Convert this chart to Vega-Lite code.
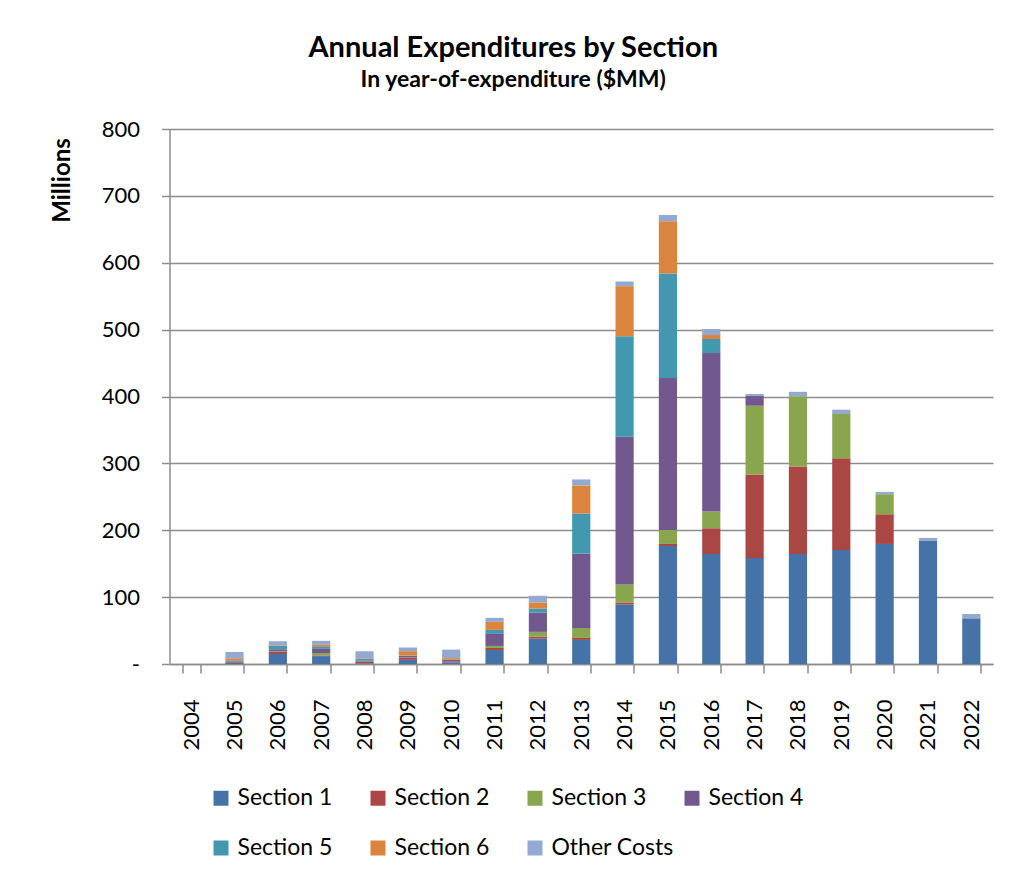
{
  "$schema": "https://vega.github.io/schema/vega-lite/v6.json",
  "width": 823.5,
  "height": 535,
  "autosize": {"type": "none"},
  "padding": {"left": 169.5, "top": 129, "right": 31, "bottom": 219},
  "background": "white",
  "title": {
    "text": "Annual Expenditures by Section",
    "subtitle": "In year-of-expenditure ($MM)",
    "anchor": "middle",
    "dx": -68,
    "font": "Lato",
    "fontSize": 29,
    "fontWeight": "bold",
    "color": "black",
    "subtitleFont": "Lato",
    "subtitleFontSize": 23,
    "subtitleFontWeight": "bold",
    "subtitleColor": "black",
    "subtitlePadding": 6,
    "offset": 26
  },
  "data": {
    "values": [
      {"year": "2004", "section": "Section 1", "value": 0},
      {"year": "2005", "section": "Section 1", "value": 2},
      {"year": "2005", "section": "Section 2", "value": 1},
      {"year": "2005", "section": "Section 3", "value": 0.5},
      {"year": "2005", "section": "Section 4", "value": 1},
      {"year": "2005", "section": "Section 5", "value": 1},
      {"year": "2005", "section": "Section 6", "value": 3},
      {"year": "2005", "section": "Other Costs", "value": 9.5},
      {"year": "2006", "section": "Section 1", "value": 15},
      {"year": "2006", "section": "Section 2", "value": 3},
      {"year": "2006", "section": "Section 3", "value": 1},
      {"year": "2006", "section": "Section 4", "value": 3},
      {"year": "2006", "section": "Section 5", "value": 5},
      {"year": "2006", "section": "Section 6", "value": 1},
      {"year": "2006", "section": "Other Costs", "value": 6},
      {"year": "2007", "section": "Section 1", "value": 11.8},
      {"year": "2007", "section": "Section 2", "value": 1},
      {"year": "2007", "section": "Section 3", "value": 3.6},
      {"year": "2007", "section": "Section 4", "value": 6.2},
      {"year": "2007", "section": "Section 5", "value": 3},
      {"year": "2007", "section": "Section 6", "value": 3},
      {"year": "2007", "section": "Other Costs", "value": 6},
      {"year": "2008", "section": "Section 1", "value": 1},
      {"year": "2008", "section": "Section 2", "value": 2},
      {"year": "2008", "section": "Section 3", "value": 0.5},
      {"year": "2008", "section": "Section 4", "value": 1.5},
      {"year": "2008", "section": "Section 5", "value": 2.5},
      {"year": "2008", "section": "Section 6", "value": 1},
      {"year": "2008", "section": "Other Costs", "value": 10.5},
      {"year": "2009", "section": "Section 1", "value": 6.2},
      {"year": "2009", "section": "Section 2", "value": 3},
      {"year": "2009", "section": "Section 3", "value": 0.5},
      {"year": "2009", "section": "Section 4", "value": 2.5},
      {"year": "2009", "section": "Section 5", "value": 0.5},
      {"year": "2009", "section": "Section 6", "value": 6.5},
      {"year": "2009", "section": "Other Costs", "value": 5.5},
      {"year": "2010", "section": "Section 1", "value": 2.5},
      {"year": "2010", "section": "Section 2", "value": 1.5},
      {"year": "2010", "section": "Section 4", "value": 2},
      {"year": "2010", "section": "Section 5", "value": 0.3},
      {"year": "2010", "section": "Section 6", "value": 2.5},
      {"year": "2010", "section": "Other Costs", "value": 12.7},
      {"year": "2011", "section": "Section 1", "value": 21},
      {"year": "2011", "section": "Section 2", "value": 3},
      {"year": "2011", "section": "Section 3", "value": 3},
      {"year": "2011", "section": "Section 4", "value": 18},
      {"year": "2011", "section": "Section 5", "value": 6},
      {"year": "2011", "section": "Section 6", "value": 12},
      {"year": "2011", "section": "Other Costs", "value": 6},
      {"year": "2012", "section": "Section 1", "value": 38},
      {"year": "2012", "section": "Section 2", "value": 3},
      {"year": "2012", "section": "Section 3", "value": 7},
      {"year": "2012", "section": "Section 4", "value": 29},
      {"year": "2012", "section": "Section 5", "value": 6},
      {"year": "2012", "section": "Section 6", "value": 9},
      {"year": "2012", "section": "Other Costs", "value": 10},
      {"year": "2013", "section": "Section 1", "value": 36},
      {"year": "2013", "section": "Section 2", "value": 3},
      {"year": "2013", "section": "Section 3", "value": 15},
      {"year": "2013", "section": "Section 4", "value": 111},
      {"year": "2013", "section": "Section 5", "value": 60},
      {"year": "2013", "section": "Section 6", "value": 42},
      {"year": "2013", "section": "Other Costs", "value": 9},
      {"year": "2014", "section": "Section 1", "value": 89},
      {"year": "2014", "section": "Section 2", "value": 3},
      {"year": "2014", "section": "Section 3", "value": 27},
      {"year": "2014", "section": "Section 4", "value": 221},
      {"year": "2014", "section": "Section 5", "value": 150},
      {"year": "2014", "section": "Section 6", "value": 75},
      {"year": "2014", "section": "Other Costs", "value": 7},
      {"year": "2015", "section": "Section 1", "value": 176.5},
      {"year": "2015", "section": "Section 2", "value": 3},
      {"year": "2015", "section": "Section 3", "value": 21},
      {"year": "2015", "section": "Section 4", "value": 227},
      {"year": "2015", "section": "Section 5", "value": 156.5},
      {"year": "2015", "section": "Section 6", "value": 78},
      {"year": "2015", "section": "Other Costs", "value": 9.4},
      {"year": "2016", "section": "Section 1", "value": 164.5},
      {"year": "2016", "section": "Section 2", "value": 38.5},
      {"year": "2016", "section": "Section 3", "value": 25},
      {"year": "2016", "section": "Section 4", "value": 237},
      {"year": "2016", "section": "Section 5", "value": 21},
      {"year": "2016", "section": "Section 6", "value": 6},
      {"year": "2016", "section": "Other Costs", "value": 9},
      {"year": "2017", "section": "Section 1", "value": 158.5},
      {"year": "2017", "section": "Section 2", "value": 125},
      {"year": "2017", "section": "Section 3", "value": 102.7},
      {"year": "2017", "section": "Section 4", "value": 14.5},
      {"year": "2017", "section": "Other Costs", "value": 3},
      {"year": "2018", "section": "Section 1", "value": 164.5},
      {"year": "2018", "section": "Section 2", "value": 131},
      {"year": "2018", "section": "Section 3", "value": 105},
      {"year": "2018", "section": "Other Costs", "value": 6.5},
      {"year": "2019", "section": "Section 1", "value": 170.5},
      {"year": "2019", "section": "Section 2", "value": 137},
      {"year": "2019", "section": "Section 3", "value": 66.3},
      {"year": "2019", "section": "Other Costs", "value": 6.5},
      {"year": "2020", "section": "Section 1", "value": 179.5},
      {"year": "2020", "section": "Section 2", "value": 44.4},
      {"year": "2020", "section": "Section 3", "value": 30},
      {"year": "2020", "section": "Other Costs", "value": 3.5},
      {"year": "2021", "section": "Section 1", "value": 184.5},
      {"year": "2021", "section": "Other Costs", "value": 4},
      {"year": "2022", "section": "Section 1", "value": 68.3},
      {"year": "2022", "section": "Other Costs", "value": 6.5}
    ]
  },
  "transform": [
    {"calculate": "indexof(['Section 1','Section 2','Section 3','Section 4','Section 5','Section 6','Other Costs'], datum.section)", "as": "stackOrder"}
  ],
  "mark": {"type": "bar"},
  "encoding": {
    "x": {
      "field": "year",
      "type": "nominal",
      "scale": {
        "domain": ["2004","2005","2006","2007","2008","2009","2010","2011","2012","2013","2014","2015","2016","2017","2018","2019","2020","2021","2022"],
        "paddingInner": 0.58,
        "paddingOuter": 0.29
      },
      "axis": {
        "title": null,
        "labelAngle": 270,
        "labelAlign": "right",
        "labelBaseline": "middle",
        "labelFont": "Lato",
        "labelFontSize": 22,
        "labelColor": "black",
        "labelPadding": 26,
        "tickBand": "extent",
        "tickSize": 9,
        "tickColor": "#8c8c8c",
        "tickWidth": 1.5,
        "domainColor": "#8c8c8c",
        "domainWidth": 1.5,
        "grid": false
      }
    },
    "y": {
      "field": "value",
      "type": "quantitative",
      "stack": "zero",
      "scale": {"domain": [0, 800], "nice": false},
      "axis": {
        "values": [0, 100, 200, 300, 400, 500, 600, 700, 800],
        "labelExpr": "datum.value === 0 ? '-' : datum.label",
        "labelFont": "Lato",
        "labelFontSize": 22,
        "labelColor": "black",
        "labelPadding": 22,
        "tickSize": 8,
        "tickColor": "#8c8c8c",
        "tickWidth": 1.5,
        "domainColor": "#8c8c8c",
        "domainWidth": 1.5,
        "grid": true,
        "gridColor": "#8c8c8c",
        "gridWidth": 1.5,
        "title": "Millions",
        "titleFont": "Lato",
        "titleFontSize": 24,
        "titleFontWeight": "bold",
        "titleColor": "black",
        "titleAngle": 270,
        "titleAlign": "center",
        "titleBaseline": "middle",
        "titleX": -107,
        "titleY": 51
      }
    },
    "color": {
      "field": "section",
      "type": "nominal",
      "scale": {
        "domain": ["Section 1","Section 2","Section 3","Section 4","Section 5","Section 6","Other Costs"],
        "range": ["#4572A7","#AA4643","#89A54E","#71588F","#4198AF","#DB843D","#93A9CF"]
      },
      "legend": {
        "orient": "none",
        "legendX": 40,
        "legendY": 657.5,
        "direction": "horizontal",
        "columns": 4,
        "title": null,
        "symbolType": "square",
        "symbolSize": 225,
        "symbolStrokeWidth": 0,
        "labelFont": "Lato",
        "labelFontSize": 23,
        "labelColor": "black",
        "labelOffset": 5,
        "rowPadding": 26,
        "columnPadding": 6,
        "gridAlign": "all"
      }
    },
    "order": {"field": "stackOrder", "type": "quantitative", "sort": "ascending"}
  },
  "config": {
    "view": {"stroke": null}
  }
}
